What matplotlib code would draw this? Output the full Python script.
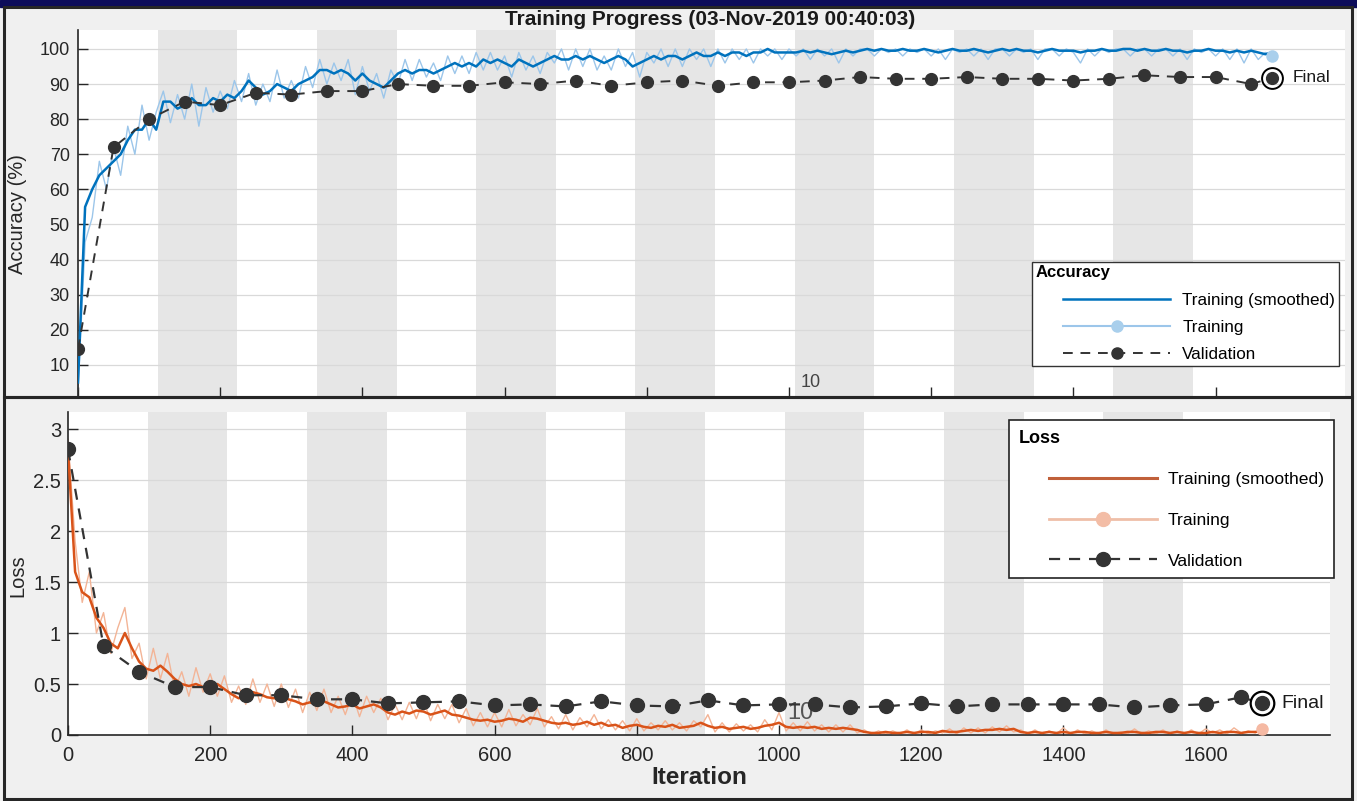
import numpy as np
import matplotlib
matplotlib.use("Agg")
import matplotlib.pyplot as plt
from matplotlib.lines import Line2D
from matplotlib.patches import Rectangle
from matplotlib.legend_handler import HandlerLine2D

plt.rcParams['font.family'] = ['Liberation Sans', 'DejaVu Sans']

W, H = 1357, 801

# ---- data ----
iters = np.arange(0, 1681, 10)
val_iters = np.arange(0, 1651, 50)
final_iter = 1680
iters_per_epoch = 112
n_epochs = 15

acc_smooth = [
    5, 55, 60, 64, 66, 68, 70, 74, 77, 77, 80,
    77, 85, 85, 83, 84, 86, 84, 84, 86, 85,
    87, 86, 88, 91, 89, 87, 88, 90, 89, 88,
    90, 91, 92, 94, 94, 93, 94, 93, 91, 93,
    91, 90, 89, 91, 93, 94, 93, 94, 94, 93,
    94, 95, 96, 95, 96, 95, 97, 96, 97, 96,
    95, 97, 96, 95, 96, 97, 98, 97, 97, 98,
    97, 98, 97, 96, 97, 98, 97, 95, 96, 97,
    98, 97, 98, 98, 97, 98, 99, 98, 98, 99,
    98, 99, 99, 98, 99, 99, 100, 99, 99, 99,
    99, 99.5, 99, 99.5, 99, 98.5, 99, 99.5, 99, 99.5,
    100, 99.5, 100, 99.5, 99.5, 100, 99.5, 99.5, 100, 99.5,
    99, 99.5, 100, 99.5, 99.5, 100, 99.5, 99, 99.5, 100,
    99.5, 100, 99.5, 99.5, 99, 99.5, 100, 99.5, 99.5, 99.5,
    99, 99.5, 99.5, 100, 99.5, 99.5, 100, 100, 99.5, 100,
    99.5, 99.5, 100, 99.5, 99.5, 99, 99.5, 99.5, 100, 99.5,
    99.5, 99, 99.5, 99, 99.5, 99, 98.5, 99,
]
acc_raw = [
    3, 45, 52, 68, 60, 72, 64, 78, 70, 84, 74,
    82, 88, 79, 87, 80, 90, 78, 89, 82, 88,
    83, 91, 85, 93, 84, 90, 85, 94, 86, 91,
    86, 95, 89, 97, 90, 96, 91, 97, 87, 95,
    88, 93, 86, 94, 90, 97, 91, 97, 92, 96,
    91, 98, 93, 98, 93, 99, 94, 99, 94, 98,
    92, 99, 94, 98, 93, 99, 96, 100, 94, 100,
    95, 100, 94, 98, 94, 100, 95, 99, 92, 99,
    96, 100, 95, 100, 95, 100, 97, 100, 95, 100,
    96, 100, 97, 100, 96, 100, 98, 100, 97, 100,
    98, 100, 97, 100, 98, 100, 96, 100, 98, 100,
    100, 98, 100, 99, 100, 98, 100, 99, 100, 98,
    100, 97, 100, 99, 100, 98, 100, 97, 100, 100,
    98, 100, 99, 100, 97, 100, 100, 98, 100, 99,
    96, 100, 98, 100, 99, 100, 100, 98, 100, 100,
    98, 100, 100, 98, 100, 97, 100, 99, 100, 98,
    100, 97, 100, 96, 100, 97, 99, 98,
]
acc_val = [
    14.5, 72, 80, 85, 84, 87.5, 87, 88, 88, 90,
    89.5, 89.5, 90.5, 90, 91, 89.5, 90.5, 91, 89.5, 90.5,
    90.5, 91, 92, 91.5, 91.5, 92, 91.5, 91.5, 91, 91.5,
    92.5, 92, 92, 90,
]
acc_val_final = 91.8

loss_smooth = [
    2.8, 1.6, 1.4, 1.35, 1.15, 1.05, 0.9, 0.85, 1.0, 0.85,
    0.72, 0.65, 0.63, 0.68, 0.62, 0.55, 0.5, 0.48, 0.5, 0.47,
    0.46, 0.5, 0.45, 0.4, 0.36, 0.38, 0.42, 0.4, 0.37, 0.36,
    0.38, 0.35, 0.33, 0.3, 0.32, 0.3, 0.33, 0.3, 0.27, 0.28,
    0.3, 0.26, 0.28, 0.3, 0.27, 0.22, 0.2, 0.23, 0.21, 0.24,
    0.23, 0.2, 0.22, 0.24, 0.2, 0.19, 0.17, 0.15, 0.14, 0.15,
    0.13, 0.14, 0.16, 0.15, 0.13, 0.17, 0.16, 0.14, 0.12, 0.11,
    0.12, 0.1, 0.11, 0.13, 0.1, 0.12, 0.09, 0.1, 0.07, 0.09,
    0.1, 0.08, 0.07, 0.09, 0.08, 0.1, 0.07, 0.08, 0.09, 0.12,
    0.09, 0.07, 0.08, 0.06, 0.07, 0.08, 0.06, 0.07, 0.09, 0.1,
    0.12, 0.08, 0.07, 0.08, 0.07, 0.08, 0.06, 0.07, 0.06, 0.07,
    0.06, 0.05, 0.03, 0.02, 0.02, 0.03, 0.02, 0.02, 0.03, 0.02,
    0.03, 0.03, 0.02, 0.04, 0.03, 0.03, 0.04, 0.05, 0.04, 0.05,
    0.05, 0.06, 0.05, 0.06, 0.03, 0.02, 0.03, 0.02, 0.03, 0.02,
    0.03, 0.02, 0.03, 0.03, 0.02, 0.02, 0.03, 0.02, 0.02, 0.03,
    0.03, 0.02, 0.02, 0.03, 0.03, 0.02, 0.03, 0.02, 0.03, 0.02,
    0.02, 0.03, 0.02, 0.03, 0.03, 0.02, 0.03, 0.03, 0.04,
]
loss_raw = [
    2.9, 1.9, 1.3, 1.6, 1.0, 1.2, 0.8, 1.05, 1.25, 0.75,
    0.9, 0.55, 0.85, 0.55, 0.8, 0.45, 0.62, 0.38, 0.66, 0.42,
    0.6, 0.38, 0.58, 0.32, 0.48, 0.3, 0.55, 0.32, 0.5, 0.28,
    0.5, 0.27, 0.45, 0.22, 0.42, 0.24, 0.45, 0.22, 0.38, 0.2,
    0.4, 0.18, 0.38, 0.22, 0.36, 0.15, 0.3, 0.15, 0.32, 0.16,
    0.34, 0.14, 0.3, 0.16, 0.3, 0.12, 0.26, 0.09, 0.22, 0.08,
    0.22, 0.08, 0.25, 0.09, 0.2, 0.1, 0.26, 0.08, 0.18, 0.06,
    0.2, 0.05, 0.17, 0.08, 0.2, 0.06, 0.15, 0.05, 0.14, 0.04,
    0.16, 0.04, 0.12, 0.05, 0.14, 0.05, 0.12, 0.04, 0.14, 0.08,
    0.2, 0.03, 0.12, 0.03, 0.11, 0.04, 0.1, 0.03, 0.15, 0.05,
    0.22, 0.04, 0.12, 0.04, 0.13, 0.04, 0.1, 0.03, 0.1, 0.03,
    0.1, 0.02, 0.05, 0.01, 0.04, 0.01, 0.04, 0.01, 0.05, 0.01,
    0.05, 0.01, 0.04, 0.02, 0.06, 0.01, 0.07, 0.02, 0.07, 0.02,
    0.08, 0.03, 0.09, 0.03, 0.05, 0.01, 0.05, 0.01, 0.04, 0.01,
    0.07, 0.01, 0.05, 0.01, 0.04, 0.01, 0.05, 0.01, 0.03, 0.01,
    0.06, 0.01, 0.04, 0.01, 0.05, 0.01, 0.04, 0.01, 0.05, 0.01,
    0.06, 0.02, 0.05, 0.01, 0.07, 0.02, 0.04, 0.02, 0.06,
]
loss_val = [
    2.8, 0.87, 0.62, 0.47, 0.47, 0.39, 0.39, 0.35, 0.35, 0.31,
    0.32, 0.33, 0.29, 0.3, 0.28, 0.33, 0.29, 0.28, 0.34, 0.29,
    0.3, 0.3, 0.27, 0.28, 0.31, 0.28, 0.3, 0.3, 0.3, 0.3,
    0.27, 0.29, 0.3, 0.37,
]
loss_val_final = 0.31

epoch_label = "10"
title = "Training Progress (03-Nov-2019 00:40:03)"
legend_labels = ['Training (smoothed)', 'Training', 'Validation']

# ---- styling ----
BG = '#f0f0f0'
STRIPE = '#e6e6e6'
GRID = '#d9d9d9'
DARK = '#262626'

fig = plt.figure(figsize=(W / 100, H / 100), dpi=100, facecolor=BG)


def fx(px):
    return px / W


def fy(py):
    return 1 - py / H


def rect(x0, y0, x1, y1):
    return [fx(x0), fy(y1), fx(x1) - fx(x0), fy(y0) - fy(y1)]


class IndentLine(HandlerLine2D):
    # MATLAB-style legend: handle starts a bit in from the box edge
    def __init__(self, indent, **kw):
        super().__init__(**kw)
        self.indent = indent

    def get_xdata(self, legend, xdescent, ydescent, width, height, fontsize):
        x0 = -xdescent + self.indent * fontsize
        x1 = -xdescent + width
        return np.array([x0, x1]), np.array([(x0 + x1) / 2])


# dark title bar strip and panel frames
fig.add_artist(Rectangle((0, fy(7)), 1, 1 - fy(7), transform=fig.transFigure,
                         color='#0c0c5a', zorder=0))
for y0, y1 in [(7, 397), (397, 799)]:
    fig.add_artist(Rectangle((fx(4), fy(y1)), fx(1352) - fx(4), fy(y0) - fy(y1),
                             transform=fig.transFigure, fill=False,
                             edgecolor=DARK, lw=2.2, zorder=5))

ax1 = fig.add_axes(rect(78, 30, 1345, 397))
ax2 = fig.add_axes(rect(68, 412, 1330, 735))


def base(ax, xmax, ylim):
    ax.set_facecolor('white')
    ax.set_xlim(0, xmax)
    ax.set_ylim(*ylim)
    for k in range(1, n_epochs, 2):
        ax.axvspan(k * iters_per_epoch, (k + 1) * iters_per_epoch,
                   color=STRIPE, lw=0, zorder=0)
    ax.grid(axis='y', color=GRID, lw=0.9, zorder=0.5)
    ax.set_axisbelow(True)
    for s in ['top', 'right']:
        ax.spines[s].set_visible(False)
    for s in ['left', 'bottom']:
        ax.spines[s].set_color(DARK)
        ax.spines[s].set_linewidth(1.2)
    ax.tick_params(direction='in', length=7, width=1, color=DARK)
    ax.set_xticks(np.arange(0, 1601, 200))


# ---- accuracy ----
base(ax1, 1782, (0.85, 105.4))
ax1.spines['bottom'].set_visible(False)
ax1.set_yticks(np.arange(10, 101, 10))
ax1.tick_params(axis='x', labelbottom=False)
ax1.tick_params(axis='y', labelsize=13, labelcolor=DARK, pad=6)
ax1.plot(iters, acc_raw, color='#9cc6ea', lw=1.0, zorder=2)
ax1.plot(iters, acc_smooth, color='#0072bd', lw=1.8, zorder=3)
ax1.plot([final_iter], [acc_raw[-1]], 'o', color='#a9cfec', ms=8, zorder=3)
ax1.plot(val_iters, acc_val, '--o', color='#333333', lw=1.4, dashes=(5, 4),
         ms=8.5, zorder=4)
ax1.plot([val_iters[-1], final_iter], [acc_val[-1], acc_val_final], '--',
         color='#333333', lw=1.4, dashes=(5, 4), zorder=4)
ax1.plot([final_iter], [acc_val_final], 'o', color='#333333', ms=8.5, zorder=5)
ax1.plot([final_iter], [acc_val_final], 'o', mfc='none', mec='black', mew=1.4,
         ms=15, zorder=5)
ax1.text(final_iter + 28, acc_val_final, 'Final', fontsize=12.5, va='center',
         color='#1a1a1a', zorder=6)
ax1.text(1030, 5.0, epoch_label, fontsize=13, ha='center', va='center',
         color='#444444')
fig.text(fx(18), fy(214), 'Accuracy (%)', rotation=90, ha='center',
         va='center', fontsize=14.5, color=DARK)

h_acc = [
    Line2D([], [], color='#0072bd', lw=1.8),
    Line2D([], [], color='#9cc6ea', lw=1.5, marker='o', ms=8,
           markerfacecolor='#a9cfec', markeredgecolor='#a9cfec'),
    Line2D([], [], color='#333333', lw=1.4, ls='--', dashes=(5, 4),
           marker='o', ms=8),
]
leg1 = ax1.legend(h_acc, legend_labels, title='Accuracy', loc='upper left',
                  bbox_to_anchor=(0.753, 0.368), fontsize=12.3,
                  title_fontproperties={'weight': 'bold', 'size': 12},
                  alignment='left', frameon=True, fancybox=False,
                  edgecolor='#333333', framealpha=1, handlelength=7.9,
                  handletextpad=0.7, labelspacing=0.72, borderpad=0.2,
                  borderaxespad=0,
                  handler_map={Line2D: IndentLine(1.6)})
leg1.get_frame().set_linewidth(1.0)

# ---- loss ----
base(ax2, 1775, (0, 3.167))
ax2.set_yticks([0, 0.5, 1, 1.5, 2, 2.5, 3])
ax2.set_yticklabels(['0', '0.5', '1', '1.5', '2', '2.5', '3'])
ax2.tick_params(axis='both', labelsize=14.5, labelcolor=DARK)
ax2.tick_params(axis='x', pad=8)
ax2.tick_params(axis='y', pad=5)
ax2.plot(iters, loss_raw, color='#f3b496', lw=1.0, zorder=2)
ax2.plot(iters, loss_smooth, color='#d95319', lw=1.8, zorder=3)
ax2.plot([final_iter], [loss_raw[-1]], 'o', color='#f5b9a3', ms=8, zorder=3)
ax2.plot(val_iters, loss_val, '--o', color='#333333', lw=1.6, dashes=(5, 4),
         ms=10, zorder=4)
ax2.plot([val_iters[-1], final_iter], [loss_val[-1], loss_val_final], '--',
         color='#333333', lw=1.6, dashes=(5, 4), zorder=4)
ax2.plot([final_iter], [loss_val_final], 'o', color='#333333', ms=10, zorder=5)
ax2.plot([final_iter], [loss_val_final], 'o', mfc='none', mec='black', mew=1.6,
         ms=17, zorder=5)
ax2.text(final_iter + 26, loss_val_final, 'Final', fontsize=14, va='center',
         color='#1a1a1a', zorder=6)
ax2.text(1030, 0.22, epoch_label, fontsize=17, ha='center', va='center',
         color='#555555')
fig.text(fx(18), fy(576), 'Loss', rotation=90, ha='center', va='center',
         fontsize=14.5, color=DARK)
ax2.set_xlabel('Iteration', fontsize=17.5, fontweight='bold', color=DARK,
               labelpad=1)

h_loss = [
    Line2D([], [], color='#c0603a', lw=2.2),
    Line2D([], [], color='#efbfa8', lw=2.0, marker='o', ms=10,
           markerfacecolor='#f3bda6', markeredgecolor='#f3bda6'),
    Line2D([], [], color='#333333', lw=1.6, ls='--', dashes=(5, 4),
           marker='o', ms=10),
]
leg2 = ax2.legend(h_loss, legend_labels, title='Loss', loc='upper left',
                  bbox_to_anchor=(0.746, 0.975), fontsize=12.6,
                  title_fontproperties={'weight': 'bold', 'size': 13},
                  alignment='left', frameon=True, fancybox=False,
                  edgecolor='#222222', framealpha=1, handlelength=7.9,
                  handletextpad=0.6, labelspacing=1.45, borderpad=0.55,
                  borderaxespad=0,
                  handler_map={Line2D: IndentLine(1.7)})
leg2.get_frame().set_linewidth(1.2)

fig.text(fx(710), fy(19.5), title, ha='center', va='center', fontsize=15,
         fontweight='bold', color='#1a1a1a', zorder=6)

fig.savefig('out.png', dpi=100, facecolor=BG)
